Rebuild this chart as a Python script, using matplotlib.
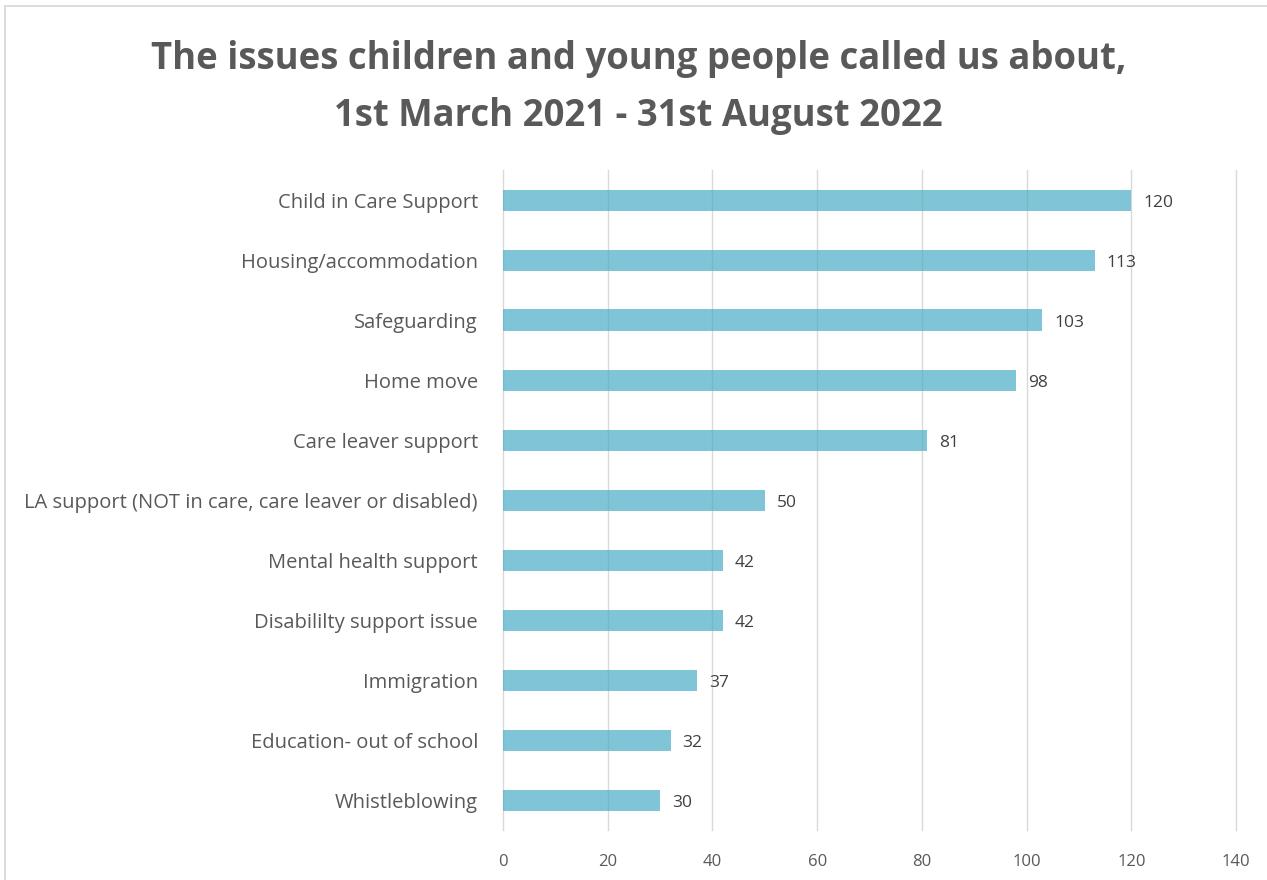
import numpy as np
import matplotlib.pyplot as plt
from matplotlib.patches import Rectangle

# Data
categories = ['Child in Care Support', 'Housing/accommodation', 'Safeguarding', 'Home move',
              'Care leaver support', 'LA support (NOT in care, care leaver or disabled)',
              'Mental health support', 'Disabililty support issue', 'Immigration',
              'Education- out of school', 'Whistleblowing']
counts = [120, 113, 103, 98, 81, 50, 42, 42, 37, 32, 30]
xticks = [0, 20, 40, 60, 80, 100, 120, 140]

plt.rcParams['font.family'] = ['Open Sans', 'DejaVu Sans']

fig = plt.figure(figsize=(12.67, 8.8), dpi=100)
ax = fig.add_axes([503/1267, 1 - 830/880, 733/1267, 660/880])

y = np.arange(len(categories))[::-1]
ax.barh(y, counts, height=0.35, color='#4bacc6', alpha=0.7, zorder=2)

for yi, v in zip(y, counts):
    ax.text(v + 2.3, yi - 0.05, str(v), va='center', ha='left', fontsize=12.5, color='#404040')

ax.set_yticks(y)
ax.set_yticklabels(categories, fontsize=14.5, color='#595959')
ax.set_xticks(xticks)
ax.set_xticklabels([str(t) for t in xticks], fontsize=12, color='#595959')
ax.set_xlim(0, 140)
ax.set_ylim(-0.5, len(categories) - 0.5)
ax.tick_params(axis='both', length=0)
ax.tick_params(axis='y', pad=18)
ax.tick_params(axis='x', pad=17)
ax.grid(axis='x', color='#d9d9d9', linewidth=1.0, zorder=0)
for gl in ax.get_xgridlines():
    gl.set_clip_on(False)
for s in ax.spines.values():
    s.set_visible(False)

cx = 0.5 + 5/1267
fig.text(cx, 1 - 59/880, 'The issues children and young people called us about,',
         ha='center', va='center', fontsize=26.3, fontweight='bold', color='#595959')
fig.text(cx, 1 - 116/880, '1st March 2021 - 31st August 2022',
         ha='center', va='center', fontsize=26.3, fontweight='bold', color='#595959')

# chart border (cropped at right and bottom)
fig.patches.append(Rectangle((5/1267, -0.1), 1.2, 1 - 6/880 + 0.1, transform=fig.transFigure,
                             fill=False, edgecolor='#d9d9d9', linewidth=1.3))

fig.savefig('out.png', dpi=100)
